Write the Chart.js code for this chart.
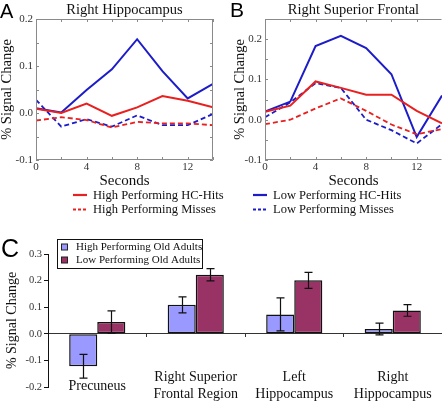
<!DOCTYPE html>
<html><head><meta charset="utf-8">
<script src="https://cdn.jsdelivr.net/npm/chart.js@4.4.1/dist/chart.umd.min.js"></script>
<style>
html,body{margin:0;padding:0;background:#fff;}
#wrap{position:relative;width:442px;height:402px;overflow:hidden;background:#fff;}
.box{position:absolute;}
</style></head><body>
<div id="wrap">
<div class="box" style="left:0;top:0;width:240px;height:222px"><canvas id="cA"></canvas></div>
<div class="box" style="left:221px;top:0;width:221px;height:222px"><canvas id="cB"></canvas></div>
<div class="box" style="left:0;top:222px;width:442px;height:180px"><canvas id="cC"></canvas></div>
</div>
<script>
// ---- data ----
const seconds = [0, 2, 4, 6, 8, 10, 12, 14];
const secondTicks = [0, 4, 8, 12];
const signalTicks = [-0.1, 0.0, 0.1, 0.2];
const seriesNames = ['High Performing HC-Hits', 'High Performing Misses', 'Low Performing HC-Hits', 'Low Performing Misses'];

const hippoHighHits   = [0.009, 0.000, 0.020, -0.006, 0.012, 0.036, 0.026, 0.012];
const hippoHighMisses = [-0.016, -0.009, -0.015, -0.031, -0.019, -0.022, -0.022, -0.026];
const hippoLowHits    = [0.010, 0.001, 0.049, 0.093, 0.157, 0.089, 0.031, 0.062];
const hippoLowMisses  = [0.028, -0.029, -0.013, -0.029, -0.005, -0.026, -0.026, -0.002];

const frontalHighHits   = [0.020, 0.035, 0.095, 0.079, 0.062, 0.062, 0.022, -0.009];
const frontalHighMisses = [-0.011, 0.000, 0.028, 0.053, 0.022, -0.012, -0.036, -0.023];
const frontalLowHits    = [0.020, 0.045, 0.183, 0.208, 0.178, 0.113, -0.043, 0.060];
const frontalLowMisses  = [0.006, 0.043, 0.091, 0.079, 0.000, -0.026, -0.059, -0.011];

const regions = [['Precuneus'], ['Right Superior', 'Frontal Region'], ['Left', 'Hippocampus'], ['Right', 'Hippocampus']];
const groupNames = ['High Performing Old Adults', 'Low Performing Old Adults'];
const highMeans = [-0.122, 0.109, 0.073, 0.018];
const highErr   = [0.045, 0.030, 0.062, 0.022];
const lowMeans  = [0.044, 0.222, 0.201, 0.088];
const lowErr    = [0.042, 0.023, 0.030, 0.022];
const barTicks  = [-0.2, -0.1, 0.0, 0.1, 0.2, 0.3];

// ---- styles ----
const SERIF = "'Liberation Serif','Times New Roman',serif";
const SANS = "'Liberation Sans',Arial,sans-serif";
const RED = '#e8201f', BLUE = '#1c1cc8';
const LIGHT = '#9999ff', DARK = '#993366';

// ---- plugins ----
const framePlugin = {
  id: 'frame',
  afterDraw(chart, args, o) {
    const {ctx, chartArea: a, scales: {x, y}} = chart;
    ctx.save();
    ctx.strokeStyle = '#8a8a8a'; ctx.lineWidth = 1;
    const L = a.left + 0.5, T = a.top + 0.5, R = a.right - 0.5, B = a.bottom - 0.5;
    ctx.beginPath();
    ctx.moveTo(R, T); ctx.lineTo(L, T); ctx.lineTo(L, B); ctx.lineTo(R, B);
    if (o.rightEdge) ctx.lineTo(R, T);
    ctx.stroke();
    ctx.beginPath();
    for (let v = x.min; v <= x.max + 1e-9; v += o.xStep) {
      const px = Math.round(x.getPixelForValue(v)) + 0.5;
      ctx.moveTo(px, a.bottom); ctx.lineTo(px, a.bottom - 3);
      ctx.moveTo(px, a.top); ctx.lineTo(px, a.top + 3);
    }
    for (let v = y.min; v <= y.max + 1e-9; v += o.yStep) {
      const py = Math.round(y.getPixelForValue(v)) + 0.5;
      ctx.moveTo(a.left, py); ctx.lineTo(a.left + 3, py);
      if (o.rightEdge) { ctx.moveTo(a.right, py); ctx.lineTo(a.right - 3, py); }
    }
    ctx.stroke();
    ctx.restore();
  }
};

const lineLegendPlugin = {
  id: 'lineLegend',
  afterDraw(chart, args, o) {
    const ctx = chart.ctx;
    ctx.save();
    ctx.font = '12.5px ' + SERIF;
    ctx.textBaseline = 'middle';
    o.items.forEach((di, k) => {
      const ds = chart.data.datasets[di];
      const y = o.y + k * o.dy;
      ctx.strokeStyle = ds.borderColor;
      ctx.lineWidth = 2.2;
      ctx.setLineDash(ds.borderDash && ds.borderDash.length ? [3, 2] : []);
      ctx.beginPath(); ctx.moveTo(o.x, y); ctx.lineTo(o.x + o.len, y); ctx.stroke();
      ctx.setLineDash([]);
      ctx.fillStyle = '#111';
      ctx.fillText(ds.label, o.x + o.len + o.gap, y + 0.5);
    });
    ctx.restore();
  }
};

const letterPlugin = {
  id: 'letter',
  afterDraw(chart, args, o) {
    const ctx = chart.ctx;
    ctx.save();
    ctx.font = o.size + 'px ' + SANS;
    ctx.fillStyle = '#000';
    ctx.textBaseline = 'alphabetic';
    ctx.fillText(o.text, o.x, o.y);
    ctx.restore();
  }
};

const boxLegendPlugin = {
  id: 'boxLegend',
  afterDraw(chart, args, o) {
    const ctx = chart.ctx;
    ctx.save();
    ctx.fillStyle = '#fff';
    ctx.fillRect(o.x, o.y, o.w, o.h);
    ctx.strokeStyle = '#111'; ctx.lineWidth = 1;
    ctx.strokeRect(o.x + 0.5, o.y + 0.5, o.w, o.h);
    ctx.font = '11px ' + SERIF;
    ctx.textBaseline = 'middle';
    chart.data.datasets.forEach((ds, i) => {
      const cy = o.y + o.first + i * o.dy;
      ctx.fillStyle = ds.backgroundColor;
      ctx.fillRect(o.x + 4.5, cy - 3, 6, 6);
      ctx.strokeStyle = '#222';
      ctx.strokeRect(o.x + 4.5, cy - 3, 6, 6);
      ctx.fillStyle = '#111';
      ctx.fillText(ds.label, o.x + 19, cy + 0.5);
    });
    ctx.restore();
  }
};

const errorBarPlugin = {
  id: 'errorBars',
  afterDatasetsDraw(chart, args, o) {
    const {ctx, scales: {y}} = chart;
    ctx.save();
    ctx.strokeStyle = '#111'; ctx.lineWidth = 1.2;
    chart.data.datasets.forEach((ds, di) => {
      const meta = chart.getDatasetMeta(di);
      meta.data.forEach((bar, j) => {
        const v = ds.data[j], e = ds.errors[j];
        const x = Math.round(bar.x) + 0.5;
        const y1 = y.getPixelForValue(v + e), y2 = y.getPixelForValue(v - e);
        ctx.beginPath();
        ctx.moveTo(x, y1); ctx.lineTo(x, y2);
        ctx.moveTo(x - o.cap, y1); ctx.lineTo(x + o.cap, y1);
        ctx.moveTo(x - o.cap, y2); ctx.lineTo(x + o.cap, y2);
        ctx.stroke();
      });
    });
    ctx.restore();
  }
};

// ---- line panels ----
function lineSets(hh, hm, lh, lm) {
  const raw = [
    {label: seriesNames[0], vals: hh, borderColor: RED, borderWidth: 2, borderDash: []},
    {label: seriesNames[1], vals: hm, borderColor: RED, borderWidth: 1.8, borderDash: [5, 3]},
    {label: seriesNames[2], vals: lh, borderColor: BLUE, borderWidth: 2, borderDash: []},
    {label: seriesNames[3], vals: lm, borderColor: BLUE, borderWidth: 1.8, borderDash: [5, 3]}
  ];
  return raw.map(d => ({
    label: d.label, borderColor: d.borderColor, borderWidth: d.borderWidth, borderDash: d.borderDash,
    data: seconds.map((s, i) => ({x: s, y: d.vals[i]})),
    pointRadius: 0, tension: 0, fill: false
  }));
}

function lineChart(id, title, sets, yMax, cfg) {
  return new Chart(document.getElementById(id), {
    type: 'line',
    data: {datasets: sets},
    plugins: [framePlugin, lineLegendPlugin, letterPlugin],
    options: {
      responsive: true, maintainAspectRatio: false, animation: false,
      layout: {padding: {top: 0, left: 0, right: cfg.padRight, bottom: 32}},
      scales: {
        x: {
          type: 'linear', min: 0, max: 14,
          afterBuildTicks: s => { s.ticks = secondTicks.map(v => ({value: v})); },
          afterFit: s => { s.height = 30; },
          grid: {display: false, drawTicks: false}, border: {display: false},
          ticks: {color: '#333', font: {family: SERIF, size: 11}, padding: 1, maxRotation: 0, callback: v => String(v)},
          title: {display: true, text: 'Seconds', color: '#111', font: {family: SERIF, size: 15, lineHeight: 1.2}, padding: {top: 0, bottom: 0}}
        },
        y: {
          min: -0.1, max: yMax,
          afterBuildTicks: s => { s.ticks = signalTicks.map(v => ({value: v})); },
          afterFit: s => { s.width = cfg.yWidth; },
          grid: {display: false, drawTicks: false}, border: {display: false},
          ticks: {color: '#333', font: {family: SERIF, size: 11}, padding: 3, callback: v => v.toFixed(1)},
          title: {display: true, text: '% Signal Change', color: '#111', font: {family: SERIF, size: 14.5, lineHeight: 1}, padding: {top: cfg.yTitlePad, bottom: 0}}
        }
      },
      plugins: {
        legend: {display: false}, tooltip: {enabled: false},
        title: {display: true, text: title, fullSize: false, color: '#111', font: {family: SERIF, size: 14.5, weight: 'normal', lineHeight: 1.2}, padding: {top: 1, bottom: 0.6}},
        frame: {xStep: 2, yStep: 0.05, rightEdge: cfg.rightEdge},
        lineLegend: cfg.legend,
        letter: cfg.letter
      }
    }
  });
}

lineChart('cA', 'Right Hippocampus', lineSets(hippoHighHits, hippoHighMisses, hippoLowHits, hippoLowMisses), 0.2,
  {padRight: 27, yWidth: 36, yTitlePad: 0, rightEdge: true,
   legend: {items: [0, 1], x: 73, y: 195, dy: 14.5, len: 14, gap: 6},
   letter: {text: 'A', x: 0, y: 18, size: 20}});

lineChart('cB', 'Right Superior Frontal', lineSets(frontalHighHits, frontalHighMisses, frontalLowHits, frontalLowMisses), 0.25,
  {padRight: 0, yWidth: 44, yTitlePad: 12, rightEdge: false,
   legend: {items: [2, 3], x: 32, y: 195, dy: 14.5, len: 14, gap: 6},
   letter: {text: 'B', x: 9, y: 17, size: 21}});

// ---- bar panel ----
new Chart(document.getElementById('cC'), {
  type: 'bar',
  data: {
    labels: regions,
    datasets: [
      {label: groupNames[0], data: highMeans, errors: highErr, backgroundColor: LIGHT},
      {label: groupNames[1], data: lowMeans, errors: lowErr, backgroundColor: DARK}
    ].map(d => Object.assign(d, {borderColor: '#111', borderWidth: 1.5, borderSkipped: false, categoryPercentage: 0.57, barPercentage: 1.0}))
  },
  plugins: [errorBarPlugin, boxLegendPlugin, letterPlugin],
  options: {
    responsive: true, maintainAspectRatio: false, animation: false,
    layout: {padding: {top: 32, left: 0, right: 0, bottom: 15}},
    scales: {
      x: {
        type: 'category', offset: true, position: {y: 0},
        afterFit: s => { s.paddingLeft = 0; s.paddingRight = 0; },
        border: {display: true, color: '#333', width: 1},
        grid: {display: true, drawOnChartArea: false, drawTicks: true, tickLength: 3, offset: true, color: '#333'},
        ticks: {color: '#111', font: {family: SERIF, size: 14, lineHeight: 1.2}, padding: 41, crossAlign: 'center', maxRotation: 0, autoSkip: false}
      },
      y: {
        min: -0.2, max: 0.3,
        afterBuildTicks: s => { s.ticks = barTicks.map(v => ({value: v})); },
        afterFit: s => { s.width = 48; },
        border: {display: true, color: '#111', width: 1},
        grid: {display: true, drawOnChartArea: false, drawTicks: true, tickLength: 4, color: '#111'},
        ticks: {color: '#333', font: {family: SERIF, size: 10.5}, padding: 2, callback: v => v.toFixed(1)},
        title: {display: true, text: '% Signal Change', color: '#111', font: {family: SERIF, size: 14, lineHeight: 1}, padding: {top: 5, bottom: 0}}
      }
    },
    plugins: {
      legend: {display: false}, tooltip: {enabled: false},
      errorBars: {cap: 4},
      boxLegend: {x: 57, y: 17, w: 145, h: 29, first: 8, dy: 13},
      letter: {text: 'C', x: 1, y: 35, size: 25}
    }
  }
});
</script>
</body></html>
